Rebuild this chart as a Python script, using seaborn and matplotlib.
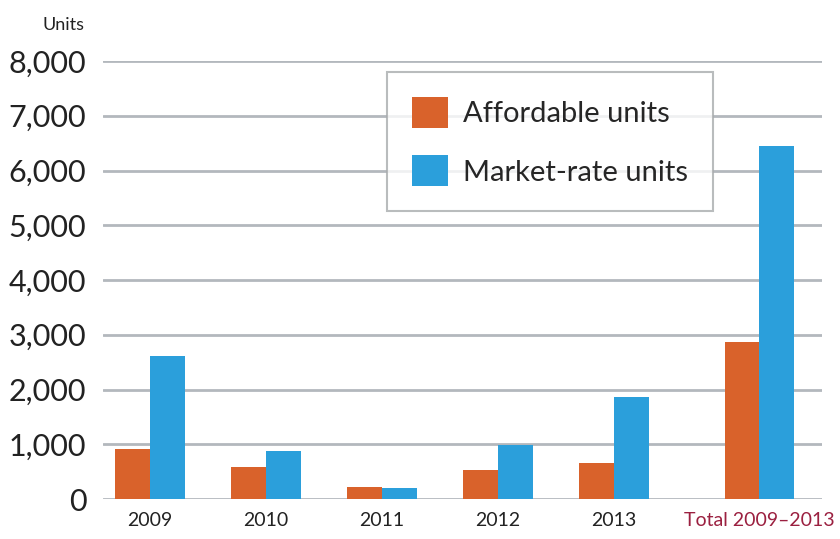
import numpy as np
import pandas as pd
import seaborn as sns
import matplotlib.pyplot as plt
from matplotlib.patches import Patch

years = ["2009", "2010", "2011", "2012", "2013", "Total 2009\u20132013"]
affordable = [910, 585, 220, 530, 655, 2860]
market_rate = [2610, 875, 200, 985, 1860, 6450]
series_names = ["Affordable units", "Market-rate units"]
colors = ["#d9622b", "#2b9fdb"]

# the total group sits a little apart from the yearly ones
pos = np.arange(len(years), dtype=float)
pos[-1] += 0.25

df = pd.DataFrame({
    "pos": np.concatenate([pos, pos]),
    "units": affordable + market_rate,
    "series": [series_names[0]] * len(years) + [series_names[1]] * len(years),
})

sns.set_style("white")
plt.rcParams["font.family"] = ["Lato", "DejaVu Sans"]

fig = plt.figure(figsize=(8.4, 5.39), dpi=100)
ax = fig.add_axes([0.1226, 0.0742, 0.856, 0.8126])

sns.barplot(data=df, x="pos", y="units", hue="series", native_scale=True,
            palette=colors, width=0.6, saturation=1, linewidth=0, ax=ax, legend=False)

ax.set_ylim(0, 8000)
ax.set_xlim(-0.405, 5.79)
ax.set_yticks(range(0, 8001, 1000))
ax.set_yticklabels([f"{v:,}" for v in range(0, 8001, 1000)], fontsize=22, color="#222222")
ax.set_xticks(pos)
ax.set_xticklabels(years, fontsize=14, color="#222222")
ax.get_xticklabels()[-1].set_color("#9b2040")
ax.tick_params(axis="y", length=0, pad=12)
ax.tick_params(axis="x", length=0, pad=9)
ax.set_xlabel("")
ax.set_ylabel("")
for s in ax.spines.values():
    s.set_visible(False)
ax.yaxis.grid(True, color="#b3b8bd", linewidth=2)
ax.set_axisbelow(True)

fig.text(0.05, 0.953, "Units", fontsize=13, color="#222222", ha="left", va="center")

handles = [Patch(facecolor=c, edgecolor="none") for c in colors]
leg = ax.legend(handles, series_names, loc="upper left", bbox_to_anchor=(0.395, 0.975),
                borderaxespad=0, frameon=True, fancybox=False,
                handlelength=1.25, handleheight=1.25,
                borderpad=0.85, labelspacing=0.95, handletextpad=0.5,
                prop={"family": ["Lato", "DejaVu Sans"], "size": 21})
leg.get_frame().set_edgecolor("#a8abad")
leg.get_frame().set_linewidth(1.5)

fig.savefig("out.png", dpi=100)
